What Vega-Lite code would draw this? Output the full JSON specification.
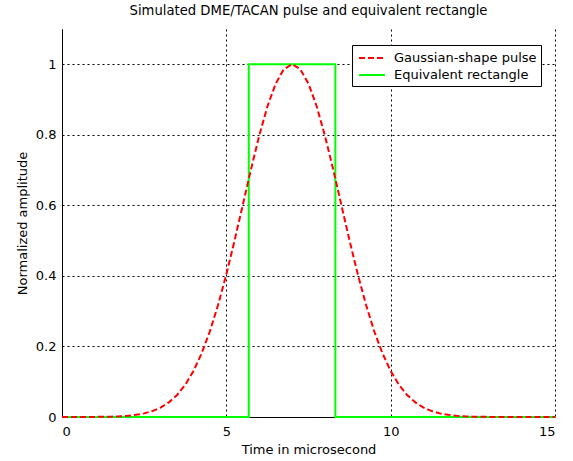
{
  "$schema": "https://vega.github.io/schema/vega-lite/v6.json",
  "width": 493,
  "height": 388,
  "autosize": {"type": "none"},
  "padding": {"left": 62, "top": 29, "right": 18, "bottom": 44},
  "background": "white",
  "title": {"text": "Simulated DME/TACAN pulse and equivalent rectangle", "fontSize": 13.2, "font": "DejaVu Sans", "fontWeight": "normal", "color": "black", "offset": 11},
  "config": {
    "view": {"stroke": null},
    "font": "DejaVu Sans",
    "axis": {
      "domainColor": "black", "domainWidth": 1,
      "gridColor": "black", "gridDash": [2, 3], "gridOpacity": 1, "gridWidth": 1,
      "ticks": false,
      "labelFontSize": 13, "labelColor": "black", "labelFont": "DejaVu Sans",
      "titleFontSize": 13, "titleColor": "black", "titleFont": "DejaVu Sans", "titleFontWeight": "normal"
    }
  },
  "data": {"values": [
    {"series": "Equivalent rectangle", "k": 0, "t": 0, "amp": 0},
    {"series": "Equivalent rectangle", "k": 1, "t": 5.683, "amp": 0},
    {"series": "Equivalent rectangle", "k": 2, "t": 5.683, "amp": 1},
    {"series": "Equivalent rectangle", "k": 3, "t": 8.317, "amp": 1},
    {"series": "Equivalent rectangle", "k": 4, "t": 8.317, "amp": 0},
    {"series": "Equivalent rectangle", "k": 5, "t": 15, "amp": 0},
    {"series": "Gaussian-shape pulse", "k": 0, "t": 0, "amp": 0.00002},
    {"series": "Gaussian-shape pulse", "k": 1, "t": 0.25, "amp": 0.00003},
    {"series": "Gaussian-shape pulse", "k": 2, "t": 0.5, "amp": 0.00007},
    {"series": "Gaussian-shape pulse", "k": 3, "t": 0.75, "amp": 0.00014},
    {"series": "Gaussian-shape pulse", "k": 4, "t": 1.0, "amp": 0.00029},
    {"series": "Gaussian-shape pulse", "k": 5, "t": 1.25, "amp": 0.00056},
    {"series": "Gaussian-shape pulse", "k": 6, "t": 1.5, "amp": 0.00106},
    {"series": "Gaussian-shape pulse", "k": 7, "t": 1.75, "amp": 0.00196},
    {"series": "Gaussian-shape pulse", "k": 8, "t": 2.0, "amp": 0.00349},
    {"series": "Gaussian-shape pulse", "k": 9, "t": 2.25, "amp": 0.00607},
    {"series": "Gaussian-shape pulse", "k": 10, "t": 2.5, "amp": 0.01023},
    {"series": "Gaussian-shape pulse", "k": 11, "t": 2.75, "amp": 0.01679},
    {"series": "Gaussian-shape pulse", "k": 12, "t": 3.0, "amp": 0.02676},
    {"series": "Gaussian-shape pulse", "k": 13, "t": 3.25, "amp": 0.04149},
    {"series": "Gaussian-shape pulse", "k": 14, "t": 3.5, "amp": 0.06252},
    {"series": "Gaussian-shape pulse", "k": 15, "t": 3.75, "amp": 0.09163},
    {"series": "Gaussian-shape pulse", "k": 16, "t": 4.0, "amp": 0.13047},
    {"series": "Gaussian-shape pulse", "k": 17, "t": 4.25, "amp": 0.18062},
    {"series": "Gaussian-shape pulse", "k": 18, "t": 4.5, "amp": 0.24306},
    {"series": "Gaussian-shape pulse", "k": 19, "t": 4.75, "amp": 0.31804},
    {"series": "Gaussian-shape pulse", "k": 20, "t": 5.0, "amp": 0.40447},
    {"series": "Gaussian-shape pulse", "k": 21, "t": 5.25, "amp": 0.5},
    {"series": "Gaussian-shape pulse", "k": 22, "t": 5.5, "amp": 0.60097},
    {"series": "Gaussian-shape pulse", "k": 23, "t": 5.75, "amp": 0.70218},
    {"series": "Gaussian-shape pulse", "k": 24, "t": 6.0, "amp": 0.79747},
    {"series": "Gaussian-shape pulse", "k": 25, "t": 6.25, "amp": 0.88047},
    {"series": "Gaussian-shape pulse", "k": 26, "t": 6.5, "amp": 0.94501},
    {"series": "Gaussian-shape pulse", "k": 27, "t": 6.75, "amp": 0.98596},
    {"series": "Gaussian-shape pulse", "k": 28, "t": 7.0, "amp": 1.0},
    {"series": "Gaussian-shape pulse", "k": 29, "t": 7.25, "amp": 0.98596},
    {"series": "Gaussian-shape pulse", "k": 30, "t": 7.5, "amp": 0.94501},
    {"series": "Gaussian-shape pulse", "k": 31, "t": 7.75, "amp": 0.88047},
    {"series": "Gaussian-shape pulse", "k": 32, "t": 8.0, "amp": 0.79747},
    {"series": "Gaussian-shape pulse", "k": 33, "t": 8.25, "amp": 0.70218},
    {"series": "Gaussian-shape pulse", "k": 34, "t": 8.5, "amp": 0.60097},
    {"series": "Gaussian-shape pulse", "k": 35, "t": 8.75, "amp": 0.5},
    {"series": "Gaussian-shape pulse", "k": 36, "t": 9.0, "amp": 0.40447},
    {"series": "Gaussian-shape pulse", "k": 37, "t": 9.25, "amp": 0.31804},
    {"series": "Gaussian-shape pulse", "k": 38, "t": 9.5, "amp": 0.24306},
    {"series": "Gaussian-shape pulse", "k": 39, "t": 9.75, "amp": 0.18062},
    {"series": "Gaussian-shape pulse", "k": 40, "t": 10.0, "amp": 0.13047},
    {"series": "Gaussian-shape pulse", "k": 41, "t": 10.25, "amp": 0.09163},
    {"series": "Gaussian-shape pulse", "k": 42, "t": 10.5, "amp": 0.06252},
    {"series": "Gaussian-shape pulse", "k": 43, "t": 10.75, "amp": 0.04149},
    {"series": "Gaussian-shape pulse", "k": 44, "t": 11.0, "amp": 0.02676},
    {"series": "Gaussian-shape pulse", "k": 45, "t": 11.25, "amp": 0.01679},
    {"series": "Gaussian-shape pulse", "k": 46, "t": 11.5, "amp": 0.01023},
    {"series": "Gaussian-shape pulse", "k": 47, "t": 11.75, "amp": 0.00607},
    {"series": "Gaussian-shape pulse", "k": 48, "t": 12.0, "amp": 0.00349},
    {"series": "Gaussian-shape pulse", "k": 49, "t": 12.25, "amp": 0.00196},
    {"series": "Gaussian-shape pulse", "k": 50, "t": 12.5, "amp": 0.00106},
    {"series": "Gaussian-shape pulse", "k": 51, "t": 12.75, "amp": 0.00056},
    {"series": "Gaussian-shape pulse", "k": 52, "t": 13.0, "amp": 0.00029},
    {"series": "Gaussian-shape pulse", "k": 53, "t": 13.5, "amp": 0.00007},
    {"series": "Gaussian-shape pulse", "k": 54, "t": 14.0, "amp": 0.00002},
    {"series": "Gaussian-shape pulse", "k": 55, "t": 15.0, "amp": 0}
  ]},
  "encoding": {
    "x": {"field": "t", "type": "quantitative", "scale": {"domain": [0, 15], "nice": false},
      "axis": {"values": [0, 5, 10, 15], "title": "Time in microsecond", "labelPadding": 8, "titlePadding": 5}},
    "y": {"field": "amp", "type": "quantitative", "scale": {"domain": [0, 1.1], "nice": false},
      "axis": {"values": [0, 0.2, 0.4, 0.6, 0.8, 1], "format": "~g", "title": "Normalized amplitude", "labelPadding": 6, "titlePadding": 6}},
    "order": {"field": "k", "type": "quantitative"},
    "color": {"field": "series", "type": "nominal",
      "scale": {"domain": ["Gaussian-shape pulse", "Equivalent rectangle"], "range": ["#ff0000", "#00ff00"]},
      "legend": {"title": null, "orient": "none", "legendX": 290, "legendY": 16,
        "strokeColor": "black", "fillColor": "white", "padding": 4,
        "symbolType": "M-0.75,0H2.5", "symbolSize": 256, "symbolStrokeWidth": 2,
        "labelFontSize": 13, "labelFont": "DejaVu Sans", "labelColor": "black", "labelOffset": 20, "rowPadding": 1,
        "labelExpr": "datum.label + '    '"}},
    "strokeDash": {"field": "series", "type": "nominal",
      "scale": {"domain": ["Gaussian-shape pulse", "Equivalent rectangle"], "range": [[6, 3], [1, 0]]},
      "legend": null}
  },
  "layer": [
    {"transform": [{"filter": "datum.series == 'Equivalent rectangle'"}], "mark": {"type": "line", "strokeWidth": 2, "clip": false}},
    {"transform": [{"filter": "datum.series == 'Gaussian-shape pulse'"}], "mark": {"type": "line", "strokeWidth": 2, "clip": false}}
  ]
}
